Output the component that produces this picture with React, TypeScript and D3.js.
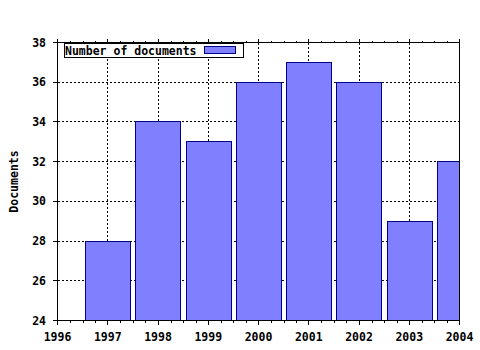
import React from "react";
import * as d3 from "d3";

const years = [1997, 1998, 1999, 2000, 2001, 2002, 2003, 2004];
const documents = [28, 34, 33, 36, 37, 36, 29, 32];
const xTicks = [1996, 1997, 1998, 1999, 2000, 2001, 2002, 2003, 2004];
const yTicks = [24, 26, 28, 30, 32, 34, 36, 38];
const seriesName = "Number of documents";
const yLabel = "Documents";

const W = 480;
const H = 350;
const FONT = "'DejaVu Sans Mono', monospace";
const BAR_FILL = "#8080ff";
const BAR_STROKE = "#000088";

export default function App() {
  const x = d3.scaleLinear().domain([1996, 2004]).range([57.5, 459.5]);
  const y = d3.scaleLinear().domain([24, 38]).range([320.5, 42.5]);
  const left = x(1996), right = x(2004), top = y(38), bottom = y(24);
  const step = x(1997) - x(1996);
  const barW = step * 0.9;
  const minorTicks = d3.range(1996, 2004.001, 0.25).filter((v) => Math.abs(v - Math.round(v)) > 1e-6);

  return (
    <svg width={W} height={H} style={{ position: "absolute", left: 0, top: 0, background: "#fff" }} shapeRendering="crispEdges">
      <defs>
        <clipPath id="plot">
          <rect x={left} y={top} width={right - left} height={bottom - top} />
        </clipPath>
      </defs>
      <rect x={0} y={0} width={W} height={H} fill="#fff" />
      {/* grid */}
      <g stroke="#000" strokeDasharray="2,2" strokeWidth={1}>
        {xTicks.slice(1, -1).map((t) => (
          <line key={"gx" + t} x1={x(t)} x2={x(t)} y1={top} y2={bottom} />
        ))}
        {yTicks.slice(1, -1).map((t) => (
          <line key={"gy" + t} x1={left} x2={right} y1={y(t)} y2={y(t)} />
        ))}
      </g>
      {/* bars */}
      <g clipPath="url(#plot)">
        {years.map((yr, i) => (
          <rect
            key={yr}
            x={Math.round(x(yr) - barW / 2) + 0.5}
            y={y(documents[i])}
            width={Math.round(barW)}
            height={bottom - y(documents[i]) + 2}
            fill={BAR_FILL}
            stroke={BAR_STROKE}
            strokeWidth={1}
          />
        ))}
      </g>
      {/* frame */}
      <g stroke="#000" strokeWidth={1}>
        <line x1={left} x2={left} y1={top - 2} y2={bottom} />
        <line x1={right} x2={right} y1={top} y2={bottom} />
        <line x1={left} x2={right} y1={top} y2={top} />
        <line x1={left} x2={right} y1={bottom} y2={bottom} />
        {xTicks.map((t) => (
          <g key={"tx" + t}>
            <line x1={x(t)} x2={x(t)} y1={bottom} y2={bottom + 4} />
            <line x1={x(t)} x2={x(t)} y1={top} y2={top - 4} />
          </g>
        ))}
        {minorTicks.map((t) => (
          <g key={"mx" + t}>
            <line x1={Math.round(x(t)) + 0.5} x2={Math.round(x(t)) + 0.5} y1={bottom} y2={bottom + 2} />
            <line x1={Math.round(x(t)) + 0.5} x2={Math.round(x(t)) + 0.5} y1={top} y2={top - 2} />
          </g>
        ))}
        {yTicks.map((t) => (
          <line key={"ty" + t} x1={left - 5} x2={left} y1={Math.round(y(t) - 0.5) + 0.5} y2={Math.round(y(t) - 0.5) + 0.5} />
        ))}
      </g>
      {/* tick labels */}
      <g fontFamily={FONT} fontWeight="bold" fontSize={11.5} fill="#000">
        {xTicks.map((t) => (
          <text key={"lx" + t} x={x(t)} y={341} textAnchor="middle">
            {t}
          </text>
        ))}
        {yTicks.map((t) => (
          <text key={"ly" + t} x={46} y={y(t) + 4} textAnchor="end">
            {t}
          </text>
        ))}
        <text transform={`translate(17.5,${(top + bottom) / 2}) rotate(-90)`} textAnchor="middle">
          {yLabel}
        </text>
      </g>
      {/* legend */}
      <g>
        <rect x={64.5} y={43.5} width={179} height={14} fill="#fff" stroke="#000" strokeWidth={1} />
        <text x={65} y={54.5} fontFamily={FONT} fontWeight="bold" fontSize={11.5} fill="#000">
          {seriesName}
        </text>
        <rect x={204.5} y={46.5} width={31} height={7} fill={BAR_FILL} stroke={BAR_STROKE} strokeWidth={1} />
      </g>
    </svg>
  );
}
